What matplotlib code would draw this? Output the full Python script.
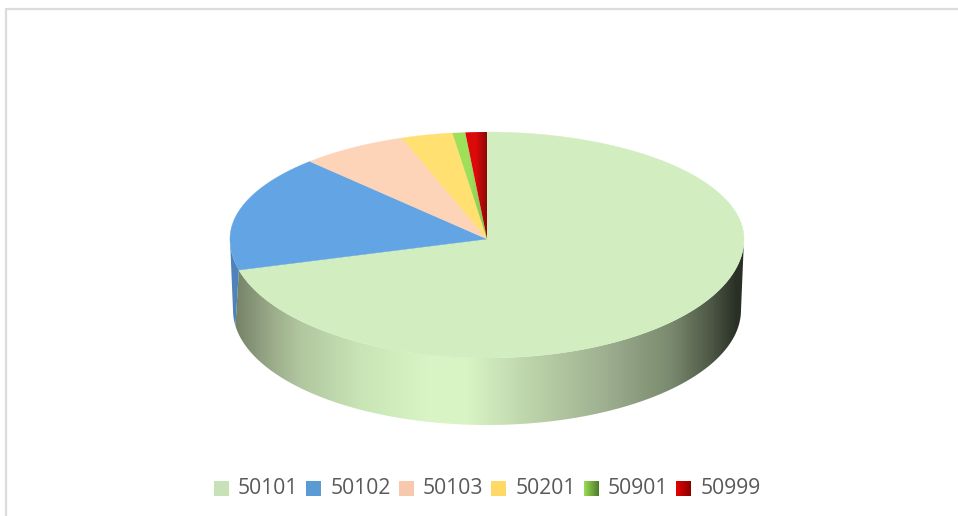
import numpy as np
import matplotlib
matplotlib.use('Agg')
import matplotlib.pyplot as plt
from matplotlib.colors import LinearSegmentedColormap
from matplotlib.patches import Polygon

categories = ['50101', '50102', '50103', '50201', '50901', '50999']
shares = [70.8, 17.1, 6.75, 3.2, 0.8, 1.35]

colors = ['#d2eec0', '#63a5e4', '#fdd4b8', '#ffe070', '#9ee05a', '#dc0a0a']
face_shade = ['#d2eec0', '#63a5e4', '#fdd4b8', '#ffe070', '#86c44c', '#8c0808']
legend_colors = [['#c8e2b8', '#c8e2b8'], ['#5b9bd5', '#5b9bd5'], ['#f8c9ae', '#f8c9ae'],
                 ['#ffd966', '#ffd966'], ['#9ade55', '#4f7a2c'], ['#e60000', '#8a0000']]

# pie geometry, in picture pixels
cx, cy = 487, 239
rx = 257
ry_top, ry_bottom = 107, 119
base_cy = 310
base_rx, base_ry = 254, 115
base_split = 262  # where the blue sliver meets the green wall on the base edge

side_pos = [0.0, 0.02, 0.075, 0.13, 0.25, 0.385, 0.46, 0.58, 0.72, 0.857, 0.935, 0.985, 1.0]
side_col = ['#707e64', '#7d8a6e', '#9aab89', '#b0c69f', '#c9e4b5', '#d9f5c5', '#d8f3c4', '#bdd4aa',
            '#a0b292', '#7a8a6e', '#4d5846', '#2a3026', '#2a3026']

fig = plt.figure(figsize=(9.58, 5.16), dpi=100)
ax = fig.add_axes([0, 0, 1, 1])
ax.axis('off')

# chart border, top and left only
ax.plot([6, 6, 958], [516, 9, 9], color='#dcdcdc', lw=1.6, solid_joinstyle='miter')


def rim(deg):
    # deg runs clockwise from twelve o'clock
    t = np.radians(deg)
    s, c = np.sin(t), np.cos(t)
    return cx + rx * s, cy - np.where(c > 0, ry_top, ry_bottom) * c


def base(deg):
    t = np.radians(deg)
    return cx + base_rx * np.sin(t), base_cy - base_ry * np.cos(t)


def wall(top0, top1, base0, base1):
    tx, ty = rim(np.linspace(top0, top1, 200))
    bx, by = base(np.linspace(base0, base1, 200))
    return np.r_[np.c_[tx, ty], np.c_[bx, by][::-1]]


grad = np.linspace(0, 1, 512).reshape(1, -1)
first_end = shares[0] * 3.6

# side wall of the big slice, then the sliver of the blue one
side_cmap = LinearSegmentedColormap.from_list('side', list(zip(side_pos, side_col)))
im = ax.imshow(grad, cmap=side_cmap, extent=(232, 745, 430, 230), aspect='auto', zorder=1)
im.set_clip_path(Polygon(wall(90, first_end, 90, base_split), closed=True, transform=ax.transData))
ax.fill(*wall(first_end, 270, base_split, 270).T, color='#4f82b8', lw=0, zorder=1)

# top face
start = 0.0
for name, share, col, shade in zip(categories, shares, colors, face_shade):
    stop = start + share * 3.6
    a = np.linspace(start, stop, 120)
    x, y = rim(a)
    px, py = np.r_[cx, x], np.r_[cy, y]
    if col == shade:
        ax.fill(px, py, color=col, lw=0.3, zorder=2)
    else:
        # the two thin slices darken towards their right edge
        cmap = LinearSegmentedColormap.from_list(name, [col, col, shade])
        im = ax.imshow(grad, cmap=cmap, extent=(px.min(), px.max(), cy, 130), aspect='auto', zorder=2)
        im.set_clip_path(Polygon(np.c_[px, py], closed=True, transform=ax.transData))
    start = stop

# legend
swatch_x = [214, 306.5, 399, 491.5, 584, 676.5]
text_x = [238, 330.5, 423, 515.5, 608, 700.5]
for name, pair, sx, lx in zip(categories, legend_colors, swatch_x, text_x):
    cmap = LinearSegmentedColormap.from_list(name, pair)
    ax.imshow(grad, cmap=cmap, extent=(sx, sx + 15, 496.5, 481.5), aspect='auto', zorder=3)
    ax.text(lx, 489, name, family='Open Sans', fontsize=15.2, color='#595959',
            va='center', ha='left')

ax.set_xlim(0, 958)
ax.set_ylim(516, 0)

fig.savefig('out.png', dpi=100)
